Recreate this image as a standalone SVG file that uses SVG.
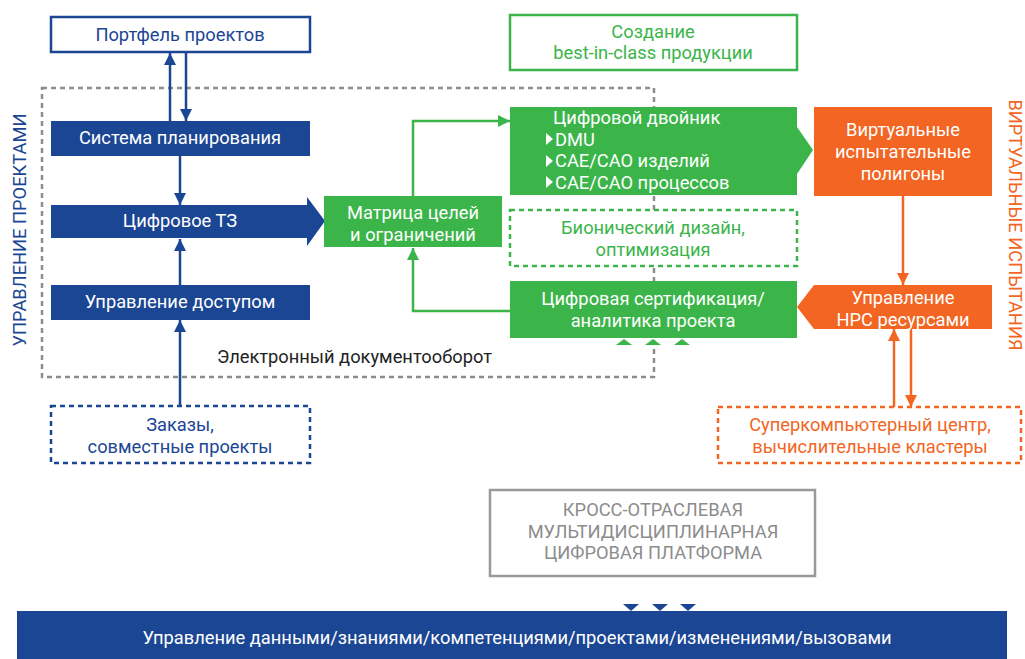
<svg xmlns="http://www.w3.org/2000/svg" width="1025" height="659" viewBox="0 0 1025 659">
<defs>
<style>
text{font-family:Roboto,"Noto Sans",sans-serif;font-size:18.3px}
.w{fill:#fff}
.b{fill:#1b4694}
.g{fill:#3bb54a}
.o{fill:#f26522}
.gr{fill:#8c8c8c}
.m{text-anchor:middle}
.bl{stroke:#1b4694;stroke-width:2.5;fill:none}
.gl{stroke:#3bb54a;stroke-width:2.5;fill:none}
.ol{stroke:#f26522;stroke-width:2.5;fill:none}
</style>
<marker id="ab" markerUnits="userSpaceOnUse" viewBox="0 0 12 12" refX="12" refY="6" markerWidth="12" markerHeight="12" orient="auto"><path d="M0,0 L12,6 L0,12 Z" fill="#1b4694"/></marker>
<marker id="ag" markerUnits="userSpaceOnUse" viewBox="0 0 12 12" refX="12" refY="6" markerWidth="12" markerHeight="12" orient="auto"><path d="M0,0 L12,6 L0,12 Z" fill="#3bb54a"/></marker>
<marker id="ao" markerUnits="userSpaceOnUse" viewBox="0 0 12 12" refX="12" refY="6" markerWidth="12" markerHeight="12" orient="auto"><path d="M0,0 L12,6 L0,12 Z" fill="#f26522"/></marker>
</defs>
<rect width="1025" height="659" fill="#fff"/>

<g id="edo-frame">
<rect x="42" y="88" width="612" height="289" fill="none" stroke="#8c8c8c" stroke-width="2.5" stroke-dasharray="5 4"/>
<text x="217" y="363" fill="#222">Электронный документооборот</text>
</g>

<g id="label-pm"><text class="b m" transform="translate(26,230) rotate(-90)">УПРАВЛЕНИЕ ПРОЕКТАМИ</text></g>
<g id="label-vt"><text class="o m" transform="translate(1009,225) rotate(90)">ВИРТУАЛЬНЫЕ ИСПЫТАНИЯ</text></g>

<g id="connectors">
<line class="bl" x1="170" y1="121" x2="170" y2="53" marker-end="url(#ab)"/>
<line class="bl" x1="186" y1="53" x2="186" y2="121" marker-end="url(#ab)"/>
<line class="bl" x1="180" y1="156" x2="180" y2="205" marker-end="url(#ab)"/>
<line class="bl" x1="180" y1="285" x2="180" y2="239" marker-end="url(#ab)"/>
<line class="bl" x1="180" y1="406" x2="180" y2="320" marker-end="url(#ab)"/>
<polyline class="gl" points="413,196 413,121 510,121" marker-end="url(#ag)"/>
<polyline class="gl" points="510,311 413,311 413,248" marker-end="url(#ag)"/>
<line class="ol" x1="903" y1="196" x2="903" y2="285" marker-end="url(#ao)"/>
<line class="ol" x1="894" y1="407" x2="894" y2="329" marker-end="url(#ao)"/>
<line class="ol" x1="911" y1="329" x2="911" y2="407" marker-end="url(#ao)"/>
<g fill="#3bb54a">
<polygon points="616,345 624,339 632,345"/>
<polygon points="645,345 653,339 661,345"/>
<polygon points="674,345 682,339 690,345"/>
</g>
<g fill="#1b4694">
<polygon points="623,604 639,604 631,611"/>
<polygon points="652,604 668,604 660,611"/>
<polygon points="680,604 696,604 688,611"/>
</g>
</g>

<g id="portfolio">
<rect x="51" y="17" width="259" height="35" fill="#fff" stroke="#1b4694" stroke-width="2.5"/>
<text class="b m" x="180" y="41">Портфель проектов</text>
</g>
<g id="planning">
<rect x="51" y="121" width="259" height="35" fill="#1b4694"/>
<text class="w m" x="180" y="144">Система планирования</text>
</g>
<g id="digital-tz">
<polygon points="51,205 307,205 307,197 325,221 307,246 307,238 51,238" fill="#1b4694"/>
<text class="w m" x="180" y="227">Цифровое ТЗ</text>
</g>
<g id="access">
<rect x="51" y="285" width="259" height="35" fill="#1b4694"/>
<text class="w m" x="180" y="308">Управление доступом</text>
</g>
<g id="orders">
<rect x="51" y="406" width="259" height="57" fill="#fff" stroke="#1b4694" stroke-width="2.5" stroke-dasharray="5 4"/>
<text class="b m" x="180" y="431">Заказы,</text>
<text class="b m" x="180" y="453">совместные проекты</text>
</g>
<g id="matrix">
<rect x="324" y="196" width="178" height="51" fill="#3bb54a"/>
<text class="w m" x="413" y="219">Матрица целей</text>
<text class="w m" x="413" y="241">и ограничений</text>
</g>
<g id="best">
<rect x="510" y="15" width="287" height="55" fill="#fff" stroke="#3bb54a" stroke-width="2.5"/>
<text class="g m" x="653" y="38">Создание</text>
<text class="g m" x="653" y="59">best-in-class продукции</text>
</g>
<g id="twin">
<polygon points="510,107 797,107 797,127 813,150 797,174 797,195 510,195" fill="#3bb54a"/>
<text class="w" x="553" y="124">Цифровой двойник</text>
<polygon points="546,133 553,139 546,145" fill="#fff"/>
<text class="w" x="555" y="146">DMU</text>
<polygon points="546,155 553,161 546,167" fill="#fff"/>
<text class="w" x="555" y="167">CAE/CAO изделий</text>
<polygon points="546,176 553,182 546,188" fill="#fff"/>
<text class="w" x="555" y="189">CAE/CAO процессов</text>
</g>
<g id="bionic">
<rect x="510" y="210" width="287" height="56" fill="#fff" stroke="#3bb54a" stroke-width="2.5" stroke-dasharray="5 4"/>
<text class="g m" x="653" y="234">Бионический дизайн,</text>
<text class="g m" x="653" y="256">оптимизация</text>
</g>
<g id="cert">
<rect x="510" y="281" width="287" height="57" fill="#3bb54a"/>
<text class="w m" x="653" y="305">Цифровая сертификация/</text>
<text class="w m" x="653" y="327">аналитика проекта</text>
</g>
<g id="polygons">
<rect x="814" y="107" width="178" height="89" fill="#f26522"/>
<text class="w m" x="903" y="136">Виртуальные</text>
<text class="w m" x="903" y="158">испытательные</text>
<text class="w m" x="903" y="180">полигоны</text>
</g>
<g id="hpc">
<polygon points="814,285 992,285 992,329 814,329 797,307" fill="#f26522"/>
<text class="w m" x="903" y="304">Управление</text>
<text class="w m" x="903" y="326">HPC ресурсами</text>
</g>
<g id="supercomputer">
<rect x="718" y="407" width="303" height="56" fill="#fff" stroke="#f26522" stroke-width="2.5" stroke-dasharray="5 4"/>
<text class="o m" x="870" y="431">Суперкомпьютерный центр,</text>
<text class="o m" x="870" y="453">вычислительные кластеры</text>
</g>
<g id="platform">
<rect x="490" y="490" width="325" height="86" fill="#fff" stroke="#999" stroke-width="2.5"/>
<text class="gr m" x="653" y="516">КРОСС-ОТРАСЛЕВАЯ</text>
<text class="gr m" x="653" y="538">МУЛЬТИДИСЦИПЛИНАРНАЯ</text>
<text class="gr m" x="653" y="559">ЦИФРОВАЯ ПЛАТФОРМА</text>
</g>
<g id="data-bar">
<rect x="17" y="611" width="990" height="48" fill="#1b4694"/>
<text class="w m" x="517" y="644">Управление данными/знаниями/компетенциями/проектами/изменениями/вызовами</text>
</g>
</svg>
